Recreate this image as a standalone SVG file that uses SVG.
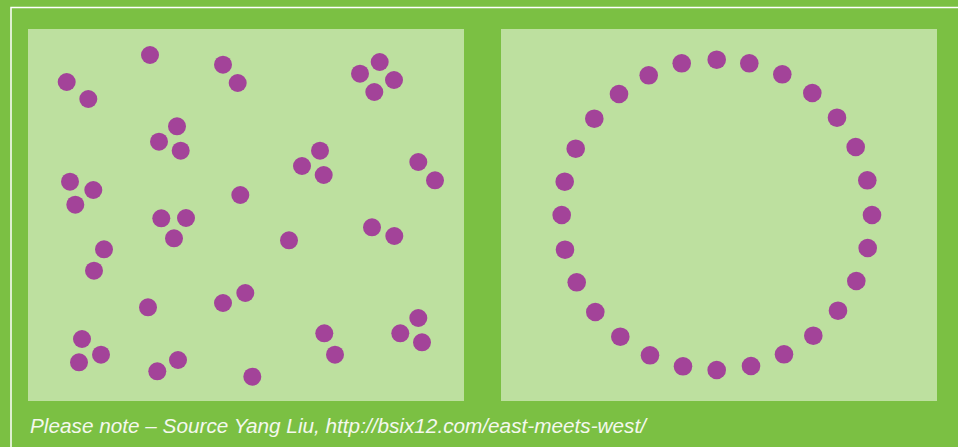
<svg xmlns="http://www.w3.org/2000/svg" width="958" height="447" viewBox="0 0 958 447">
<style>
.bg{fill:#7bc043}
.panel{fill:#bde09f}
.d{fill:#a34399}
.frame{stroke:#ffffff;stroke-width:1.5;fill:none}
.cap{font-family:"Liberation Sans",Arial,sans-serif;font-style:italic;font-size:19.5px;fill:#f4f8ee}
</style>
<rect class="bg" x="0" y="0" width="958" height="447"/>
<path class="frame" d="M958 7.5 H11 V447"/>
<g id="panel-left">
<rect class="panel" x="28" y="29" width="436" height="372"/>
<g id="dots-left">
<circle class="d" cx="150" cy="55" r="9"/>
<circle class="d" cx="66.7" cy="82" r="9"/>
<circle class="d" cx="88.3" cy="99" r="9"/>
<circle class="d" cx="223" cy="64.7" r="9"/>
<circle class="d" cx="237.7" cy="83" r="9"/>
<circle class="d" cx="379.7" cy="62" r="9"/>
<circle class="d" cx="360" cy="73.7" r="9"/>
<circle class="d" cx="394" cy="80" r="9"/>
<circle class="d" cx="374.3" cy="92" r="9"/>
<circle class="d" cx="177" cy="126.3" r="9"/>
<circle class="d" cx="159" cy="141.7" r="9"/>
<circle class="d" cx="180.7" cy="150.7" r="9"/>
<circle class="d" cx="320" cy="150.7" r="9"/>
<circle class="d" cx="302" cy="166" r="9"/>
<circle class="d" cx="323.7" cy="175" r="9"/>
<circle class="d" cx="418.3" cy="162" r="9"/>
<circle class="d" cx="435" cy="180.3" r="9"/>
<circle class="d" cx="70" cy="181.7" r="9"/>
<circle class="d" cx="93.3" cy="190" r="9"/>
<circle class="d" cx="75.3" cy="204.7" r="9"/>
<circle class="d" cx="240.3" cy="195" r="9"/>
<circle class="d" cx="161.3" cy="218.3" r="9"/>
<circle class="d" cx="186" cy="218" r="9"/>
<circle class="d" cx="372" cy="227.3" r="9"/>
<circle class="d" cx="394.3" cy="236" r="9"/>
<circle class="d" cx="174" cy="238.3" r="9"/>
<circle class="d" cx="289" cy="240.3" r="9"/>
<circle class="d" cx="104" cy="249.3" r="9"/>
<circle class="d" cx="94" cy="270.7" r="9"/>
<circle class="d" cx="148" cy="307.3" r="9"/>
<circle class="d" cx="223" cy="303" r="9"/>
<circle class="d" cx="245.3" cy="293" r="9"/>
<circle class="d" cx="418.3" cy="318" r="9"/>
<circle class="d" cx="400.3" cy="333.3" r="9"/>
<circle class="d" cx="422" cy="342.3" r="9"/>
<circle class="d" cx="324.3" cy="333.3" r="9"/>
<circle class="d" cx="335" cy="354.7" r="9"/>
<circle class="d" cx="82" cy="339" r="9"/>
<circle class="d" cx="101" cy="354.7" r="9"/>
<circle class="d" cx="79" cy="362.3" r="9"/>
<circle class="d" cx="178" cy="360" r="9"/>
<circle class="d" cx="157.3" cy="371.3" r="9"/>
<circle class="d" cx="252.3" cy="376.7" r="9"/>
</g>
</g>
<g id="panel-right">
<rect class="panel" x="501" y="29" width="436" height="372"/>
<g id="dots-right">
<circle class="d" cx="716.7" cy="59.7" r="9.3"/>
<circle class="d" cx="749.3" cy="63.3" r="9.3"/>
<circle class="d" cx="681.7" cy="63.3" r="9.3"/>
<circle class="d" cx="782.3" cy="74.3" r="9.3"/>
<circle class="d" cx="648.7" cy="75.3" r="9.3"/>
<circle class="d" cx="812.3" cy="93" r="9.3"/>
<circle class="d" cx="619" cy="94" r="9.3"/>
<circle class="d" cx="837" cy="117.7" r="9.3"/>
<circle class="d" cx="594.3" cy="118.7" r="9.3"/>
<circle class="d" cx="855.7" cy="147" r="9.3"/>
<circle class="d" cx="575.7" cy="148.7" r="9.3"/>
<circle class="d" cx="867.3" cy="180.3" r="9.3"/>
<circle class="d" cx="564.7" cy="181.7" r="9.3"/>
<circle class="d" cx="872" cy="215" r="9.3"/>
<circle class="d" cx="561.7" cy="215" r="9.3"/>
<circle class="d" cx="565" cy="249.7" r="9.3"/>
<circle class="d" cx="867.7" cy="248" r="9.3"/>
<circle class="d" cx="576.7" cy="282.3" r="9.3"/>
<circle class="d" cx="856.3" cy="281" r="9.3"/>
<circle class="d" cx="595.3" cy="312" r="9.3"/>
<circle class="d" cx="838" cy="310.7" r="9.3"/>
<circle class="d" cx="620.3" cy="336.7" r="9.3"/>
<circle class="d" cx="813.3" cy="335.7" r="9.3"/>
<circle class="d" cx="650" cy="355.3" r="9.3"/>
<circle class="d" cx="784" cy="354.3" r="9.3"/>
<circle class="d" cx="683" cy="366.3" r="9.3"/>
<circle class="d" cx="716.7" cy="370" r="9.3"/>
<circle class="d" cx="751" cy="366" r="9.3"/>
</g>
</g>
<text class="cap" x="30" y="433" textLength="616" lengthAdjust="spacingAndGlyphs">Please note – Source Yang Liu, http://bsix12.com/east-meets-west/</text>
</svg>
